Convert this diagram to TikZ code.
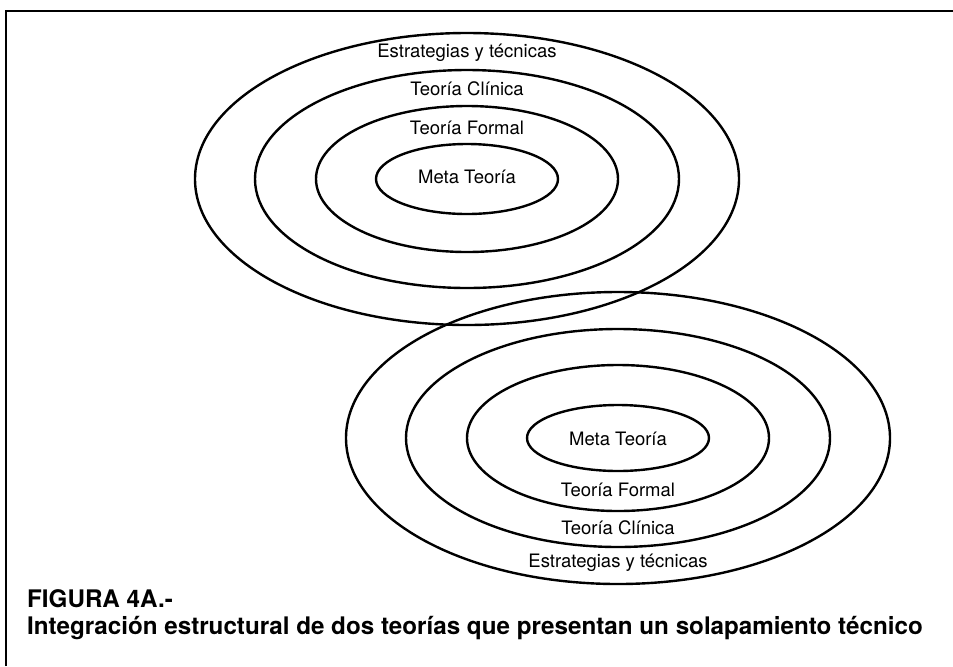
\documentclass[tikz,border=0pt]{standalone}
\usepackage{fontspec}
\setmainfont{TeX Gyre Heros}

\begin{document}
\begin{tikzpicture}[x=0.5pt, y=-0.5pt, line width=1.2pt]
        \tikzstyle{every node}=[inner sep=0pt, font=\fontsize{9.25}{11}\selectfont]
        \tikzstyle{caption}=[anchor=west, font=\fontsize{12.1}{14}\selectfont\bfseries]
        \useasboundingbox (0,0) rectangle (953,666);
        \draw[line width=1pt] (6,666) -- (6,11) -- (953,11);
        % upper theory
        \foreach \rx/\ry in {91/35, 151/73, 212/109, 272/146}
            \draw (467,179) ellipse [x radius=\rx, y radius=\ry];
        \node (metaA) at (467,177) {Meta Teoría};
        \node (formalA) at (467,128) {Teoría Formal};
        \node (clinicaA) at (467,89) {Teoría Clínica};
        \node (tecnicasA) at (467,53) {Estrategias y técnicas};
        % lower theory
        \foreach \rx/\ry in {91/33, 151/73, 212/109, 272/146}
            \draw (618,438) ellipse [x radius=\rx, y radius=\ry];
        \node (metaB) at (618,439) {Meta Teoría};
        \node (formalB) at (618,490) {Teoría Formal};
        \node (clinicaB) at (618,528) {Teoría Clínica};
        \node (tecnicasB) at (618,563) {Estrategias y técnicas};
        % caption
        \node[caption] (figura) at (26,599) {FIGURA 4A.-};
        \node[caption] (titulo) at (26,628) {Integración estructural de dos teorías que presentan un solapamiento técnico};
    \end{tikzpicture}
\end{document}
